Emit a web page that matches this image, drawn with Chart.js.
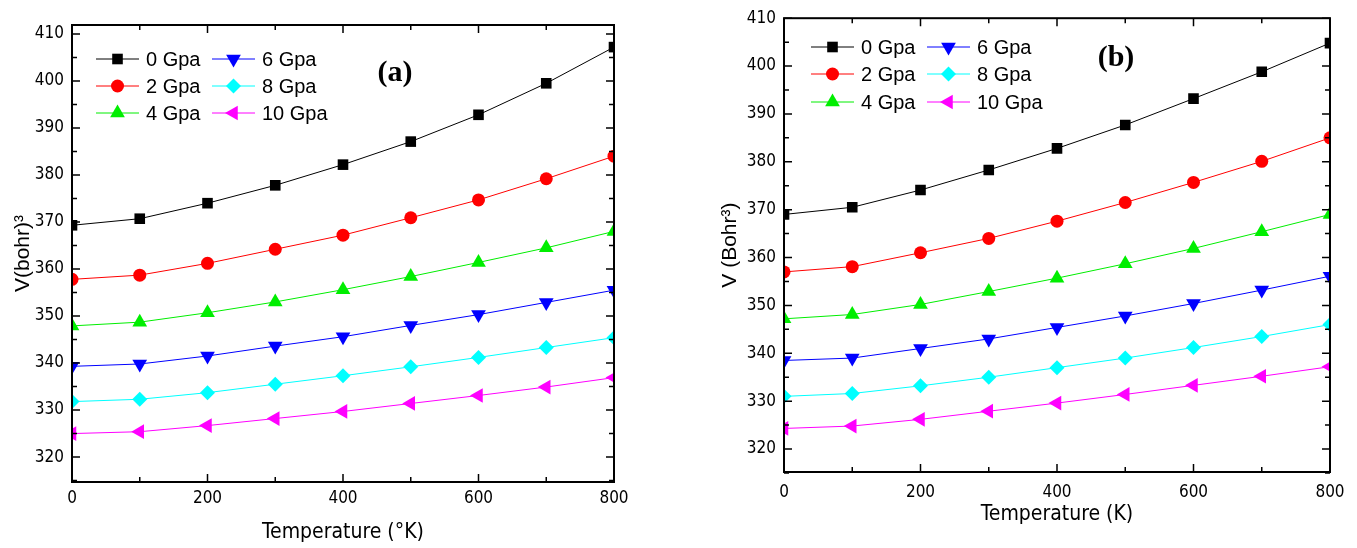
<html>
<head>
    <script src="https://cdn.jsdelivr.net/npm/chart.js@4.4.0/dist/chart.umd.min.js"></script>
    <style>
        body {
            margin: 0;
            background: #fff;
            width: 1357px;
            height: 548px;
            overflow: hidden;
        }

        .panel {
            position: absolute;
            top: 0;
        }
    </style>
</head>
<body>
    <div class="panel" style="left:0px;"><canvas id="chartA" width="680" height="548"></canvas></div>
    <div class="panel" style="left:680px;"><canvas id="chartB" width="677" height="548"></canvas></div>
<script>
    // temperatures (K) and pressure labels
    const temps = [0, 100, 200, 300, 400, 500, 600, 700, 800];
    const pressures = ['0 Gpa', '2 Gpa', '4 Gpa', '6 Gpa', '8 Gpa', '10 Gpa'];

    // panel (a)
    const volA_0 = [369.3, 370.7, 374.0, 377.8, 382.2, 387.1, 392.8, 399.5, 407.2];
    const volA_2 = [357.8, 358.7, 361.2, 364.2, 367.2, 370.9, 374.7, 379.2, 384.0];
    const volA_4 = [347.9, 348.7, 350.7, 353.0, 355.6, 358.4, 361.4, 364.5, 368.0];
    const volA_6 = [339.3, 339.8, 341.5, 343.6, 345.6, 348.0, 350.3, 352.9, 355.5];
    const volA_8 = [331.8, 332.3, 333.7, 335.5, 337.3, 339.2, 341.2, 343.3, 345.4];
    const volA_10 = [325.0, 325.4, 326.7, 328.2, 329.7, 331.4, 333.1, 334.9, 336.9];

    // panel (b)
    const volB_0 = [369.0, 370.5, 374.1, 378.3, 382.8, 387.7, 393.2, 398.8, 404.8];
    const volB_2 = [357.0, 358.1, 361.0, 364.0, 367.6, 371.5, 375.7, 380.1, 385.0];
    const volB_4 = [347.2, 348.1, 350.2, 352.9, 355.7, 358.7, 361.9, 365.4, 369.0];
    const volB_6 = [338.5, 339.0, 341.0, 343.0, 345.4, 347.8, 350.4, 353.2, 356.1];
    const volB_8 = [331.0, 331.6, 333.2, 335.0, 337.0, 339.0, 341.2, 343.5, 346.0];
    const volB_10 = [324.3, 324.8, 326.2, 327.9, 329.6, 331.4, 333.3, 335.2, 337.2];

    const xTicks = [0, 100, 200, 300, 400, 500, 600, 700, 800];
    const yTicks = [315, 320, 325, 330, 335, 340, 345, 350, 355, 360, 365, 370, 375, 380, 385, 390, 395, 400, 405, 410];

    const colors = ['#000000', '#ff0000', '#00ee00', '#0000ff', '#00ffff', '#ff00ff'];
    const styles = [
        { pointStyle: 'rect', rot: 0, r: 7.5 },
        { pointStyle: 'circle', rot: 0, r: 6.5 },
        { pointStyle: 'triangle', rot: 0, r: 8.5 },
        { pointStyle: 'triangle', rot: 180, r: 8.5 },
        { pointStyle: 'rectRot', rot: 0, r: 7.5 },
        { pointStyle: 'triangle', rot: 270, r: 8.5 }
    ];

    const tickFont = "'Liberation Sans Narrow', 'DejaVu Sans Condensed', 'Liberation Sans', Arial, sans-serif";
    const plainFont = "'Liberation Sans', Arial, sans-serif";

    function buildDatasets(series) {
        return series.map((vals, i) => ({
            label: pressures[i],
            data: vals.map((v, k) => ({ x: temps[k], y: v })),
            borderColor: colors[i],
            backgroundColor: colors[i],
            borderWidth: 1,
            pointStyle: styles[i].pointStyle,
            pointRotation: styles[i].rot,
            pointRadius: styles[i].r,
            pointBorderWidth: 0,
            tension: 0,
            clip: 0
        }));
    }

    const framePlugin = {
        id: 'frame',
        afterDatasetsDraw(chart, args, opts) {
            const { ctx, chartArea: a, scales: { x, y } } = chart;
            ctx.save();
            ctx.strokeStyle = '#000';
            ctx.lineWidth = 2;
            ctx.strokeRect(a.left, a.top, a.right - a.left, a.bottom - a.top);
            ctx.lineWidth = 1.5;
            ctx.beginPath();
            x.ticks.forEach(t => {
                const px = x.getPixelForValue(t.value);
                const len = t.value % 200 === 0 ? 8 : 5;
                ctx.moveTo(px, a.bottom); ctx.lineTo(px, a.bottom - len);
                ctx.moveTo(px, a.top); ctx.lineTo(px, a.top + len);
            });
            y.ticks.forEach(t => {
                const py = y.getPixelForValue(t.value);
                const len = t.value % 10 === 0 ? 8 : 5;
                ctx.moveTo(a.left, py); ctx.lineTo(a.left + len, py);
                ctx.moveTo(a.right, py); ctx.lineTo(a.right - len, py);
            });
            ctx.stroke();

            // legend: two columns of three
            ctx.font = '20px ' + plainFont;
            ctx.textBaseline = 'middle';
            ctx.textAlign = 'left';
            chart.data.datasets.forEach((ds, i) => {
                const col = Math.floor(i / 3), row = i % 3;
                const lx = opts.colX[col], ly = opts.rowY[row];
                ctx.strokeStyle = ds.borderColor;
                ctx.fillStyle = ds.borderColor;
                ctx.lineWidth = 1;
                ctx.beginPath();
                ctx.moveTo(lx, ly); ctx.lineTo(lx + 43, ly);
                ctx.stroke();
                Chart.helpers.drawPoint(ctx, {
                    pointStyle: ds.pointStyle, rotation: ds.pointRotation,
                    radius: ds.pointRadius, borderWidth: 0
                }, lx + 21.5, ly);
                ctx.fillStyle = '#000';
                ctx.fillText(ds.label, lx + 50, ly + 1);
            });

            ctx.font = "bold 30px 'Liberation Serif', 'Times New Roman', serif";
            ctx.textAlign = 'center';
            ctx.fillText(opts.tag, opts.tagX, opts.tagY);
            ctx.restore();
        }
    };

    function makeChart(id, series, cfg) {
        return new Chart(id, {
            type: 'line',
            data: { datasets: buildDatasets(series) },
            plugins: [framePlugin],
            options: {
                responsive: false,
                animation: false,
                layout: { padding: { top: cfg.top, right: cfg.right, left: 0, bottom: 0 } },
                plugins: {
                    legend: { display: false },
                    tooltip: { enabled: false },
                    frame: cfg.frame
                },
                scales: {
                    x: {
                        type: 'linear',
                        min: 0,
                        max: 800,
                        afterBuildTicks: s => { s.ticks = xTicks.map(v => ({ value: v })); },
                        afterFit: s => { s.height = cfg.xHeight; },
                        grid: { display: false, drawTicks: false },
                        border: { display: false },
                        ticks: {
                            autoSkip: false,
                            maxRotation: 0,
                            padding: cfg.xPad,
                            color: '#000',
                            font: { family: tickFont, size: 17 },
                            callback: v => (v % 200 === 0 ? String(v) : '')
                        },
                        title: {
                            display: true,
                            text: cfg.xTitle,
                            color: '#000',
                            font: { family: tickFont, size: 21 },
                            padding: { top: 0, bottom: cfg.xTitlePad }
                        }
                    },
                    y: {
                        type: 'linear',
                        min: cfg.yMin,
                        max: cfg.yMax,
                        afterBuildTicks: s => { s.ticks = yTicks.map(v => ({ value: v })); },
                        afterFit: s => { s.width = cfg.yWidth; },
                        grid: { display: false, drawTicks: false },
                        border: { display: false },
                        ticks: {
                            autoSkip: false,
                            padding: 8,
                            color: '#000',
                            font: { family: tickFont, size: 17 },
                            callback: v => (v % 10 === 0 ? String(v) : '')
                        },
                        title: {
                            display: true,
                            text: cfg.yTitle,
                            color: '#000',
                            font: { family: plainFont, size: 21 },
                            padding: { top: cfg.yTitlePad, bottom: 0 }
                        }
                    }
                }
            }
        });
    }

    makeChart('chartA', [volA_0, volA_2, volA_4, volA_6, volA_8, volA_10], {
        top: 25, right: 66, yWidth: 72, xHeight: 66, xPad: 6, xTitlePad: 3,
        yTitlePad: 11, yMin: 314.7, yMax: 411.9,
        xTitle: 'Temperature (°K)', yTitle: 'V(bohr)³',
        frame: { colX: [96, 212], rowY: [59, 86, 113], tag: '(a)', tagX: 395, tagY: 73 }
    });

    makeChart('chartB', [volB_0, volB_2, volB_4, volB_6, volB_8, volB_10], {
        top: 15, right: 27, yWidth: 104, xHeight: 76, xPad: 10, xTitlePad: 21,
        yTitlePad: 38, yMin: 315.2, yMax: 410,
        xTitle: 'Temperature (K)', yTitle: 'V (Bohr³)',
        frame: { colX: [811, 927].map(v => v - 680), rowY: [47, 74, 102], tag: '(b)', tagX: 1116 - 680, tagY: 58 }
    });
</script>
</body>
</html>
